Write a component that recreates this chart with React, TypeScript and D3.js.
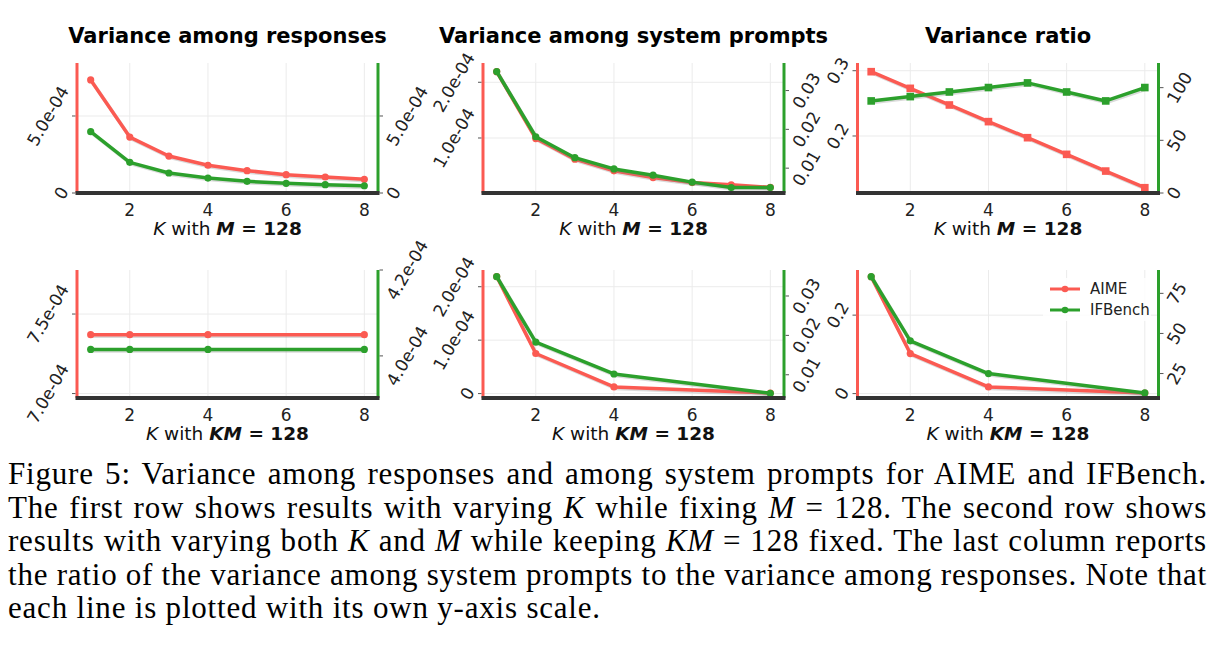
import React, { useEffect, useRef } from 'react';
import * as d3 from 'd3';

// K values on the x axis
const kFixedM = [1, 2, 3, 4, 5, 6, 7, 8];
const kFixedKM = [1, 2, 4, 8];

// Row 1: M = 128
const respAimeM = [7.34e-4, 3.63e-4, 2.40e-4, 1.80e-4, 1.45e-4, 1.19e-4, 1.04e-4, 0.89e-4];
const respIfbM = [3.98e-4, 1.99e-4, 1.30e-4, 0.97e-4, 0.76e-4, 0.63e-4, 0.54e-4, 0.47e-4];
const sysAimeM = [2.19e-4, 0.99e-4, 0.62e-4, 0.41e-4, 0.29e-4, 0.20e-4, 0.16e-4, 0.115e-4];
const sysIfbM = [0.0349, 0.0181, 0.0127, 0.0098, 0.0082, 0.0064, 0.0050, 0.0050];
const ratioAimeM = [0.2985, 0.273, 0.2475, 0.222, 0.1974, 0.1719, 0.1463, 0.1208];
const ratioIfbM = [87.4, 91.5, 95.9, 100.1, 104.5, 95.9, 87.4, 100.1];

// Row 2: KM = 128
const respAimeKM = [7.37e-4, 7.37e-4, 7.37e-4, 7.37e-4];
const respIfbKM = [4.015e-4, 4.015e-4, 4.015e-4, 4.015e-4];
const sysAimeKM = [2.19e-4, 0.75e-4, 0.125e-4, 0.01e-4];
const sysIfbKM = [0.0349, 0.0183, 0.0102, 0.0053];
const ratioAimeKM = [0.2978, 0.102, 0.017, 0.0015];
const ratioIfbKM = [85.4, 45.4, 25.0, 12.9];

const titles = ['Variance among responses', 'Variance among system prompts', 'Variance ratio'];
const seriesNames = ['AIME', 'IFBench'];

const captionLines = [
    [['Figure 5: Variance among responses and among system prompts for AIME and IFBench.', false]],
    [['The first row shows results with varying ', false], ['K', true], [' while fixing ', false], ['M', true], [' = 128. The second row shows', false]],
    [['results with varying both ', false], ['K', true], [' and ', false], ['M', true], [' while keeping ', false], ['KM', true], [' = 128 fixed. The last column reports', false]],
    [['the ratio of the variance among system prompts to the variance among responses. Note that', false]],
    [['each line is plotted with its own y-axis scale.', false]],
] as [string, boolean][][];

const RED = '#fb5a52';
const GREEN = '#2ca02c';

type Panel = {
    col: number;
    row: number;
    ks: number[];
    red: number[];
    green: number[];
    leftDomain: [number, number];
    rightDomain: [number, number];
    leftTicks: number[];
    rightTicks: number[];
    fmtL: (v: number) => string;
    fmtR: (v: number) => string;
    marker: 'circle' | 'square';
};

const sci = (v: number) => (v === 0 ? '0' : v.toExponential(1).replace(/e([+-])(\d)$/, 'e$10$2'));
const plain = (v: number) => (v === 0 ? '0' : String(v));

const panels: Panel[] = [
    { col: 0, row: 0, ks: kFixedM, red: respAimeM, green: respIfbM, leftDomain: [0, 8.44e-4], rightDomain: [0, 8.44e-4], leftTicks: [0, 5e-4], rightTicks: [0, 5e-4], fmtL: sci, fmtR: sci, marker: 'circle' },
    { col: 1, row: 0, ks: kFixedM, red: sysAimeM, green: sysIfbM, leftDomain: [0.0126e-4, 2.346e-4], rightDomain: [0.0036, 0.0371], leftTicks: [1e-4, 2e-4], rightTicks: [0.01, 0.02, 0.03], fmtL: sci, fmtR: plain, marker: 'circle' },
    { col: 2, row: 0, ks: kFixedM, red: ratioAimeM, green: ratioIfbM, leftDomain: [0.1127, 0.3118], rightDomain: [0, 123.4], leftTicks: [0.2, 0.3], rightTicks: [0, 50, 100], fmtL: plain, fmtR: plain, marker: 'square' },
    { col: 0, row: 1, ks: kFixedKM, red: respAimeKM, green: respIfbKM, leftDomain: [6.972e-4, 7.777e-4], rightDomain: [3.902e-4, 4.2e-4], leftTicks: [7.0e-4, 7.5e-4], rightTicks: [4.0e-4, 4.2e-4], fmtL: sci, fmtR: sci, marker: 'circle' },
    { col: 1, row: 1, ks: kFixedKM, red: sysAimeKM, green: sysIfbKM, leftDomain: [-0.0826e-4, 2.313e-4], rightDomain: [0.0041, 0.0366], leftTicks: [0, 1e-4, 2e-4], rightTicks: [0.01, 0.02, 0.03], fmtL: sci, fmtR: plain, marker: 'circle' },
    { col: 2, row: 1, ks: kFixedKM, red: ratioAimeKM, green: ratioIfbKM, leftDomain: [-0.0112, 0.315], rightDomain: [9.75, 89.56], leftTicks: [0, 0.2], rightTicks: [25, 50, 75], fmtL: plain, fmtR: plain, marker: 'circle' },
];

const colX = [77, 483, 857.5];
const plotW = 301;
const rowY = [[63, 193], [270, 398]];
const FONT = 'DejaVu Sans, sans-serif';

const App: React.FC = () => {
    const ref = useRef<SVGSVGElement>(null);

    useEffect(() => {
        if (!ref.current) return;
        const svg = d3.select(ref.current);
        svg.selectAll('*').remove();
        const theta = 60;
        const rad = (theta * Math.PI) / 180;

        panels.forEach((p) => {
            const x0 = colX[p.col];
            const x1 = x0 + plotW;
            const [y0, y1] = rowY[p.row];
            const g = svg.append('g');

            const x = d3.scaleLinear().domain([0.65, 8.35]).range([x0, x1]);
            const yL = d3.scaleLinear().domain(p.leftDomain).range([y1, y0]);
            const yR = d3.scaleLinear().domain(p.rightDomain).range([y1, y0]);

            // grid
            [2, 4, 6, 8].forEach((k) => {
                g.append('line').attr('x1', x(k)).attr('x2', x(k)).attr('y1', y0).attr('y2', y1)
                    .attr('stroke', '#ebebeb').attr('stroke-width', 1);
            });
            p.leftTicks.forEach((t) => {
                g.append('line').attr('x1', x0).attr('x2', x1).attr('y1', yL(t)).attr('y2', yL(t))
                    .attr('stroke', '#ebebeb').attr('stroke-width', 1);
            });

            // lines
            const drawSeries = (vals: number[], y: d3.ScaleLinear<number, number>, color: string) => {
                const pts = p.ks.map((k, i) => [x(k), y(vals[i])] as [number, number]);
                const line = d3.line();
                g.append('path').attr('d', line(pts)).attr('fill', 'none').attr('stroke', '#888')
                    .attr('stroke-opacity', 0.3).attr('stroke-width', 3.5).attr('stroke-linejoin', 'round')
                    .attr('transform', 'translate(1.2,1.5)');
                g.append('path').attr('d', line(pts)).attr('fill', 'none').attr('stroke', color)
                    .attr('stroke-width', 3.5).attr('stroke-linejoin', 'round');
                pts.forEach(([px, py]) => {
                    if (p.marker === 'circle') {
                        g.append('circle').attr('cx', px).attr('cy', py).attr('r', 3.6).attr('fill', color);
                    } else {
                        g.append('rect').attr('x', px - 3.8).attr('y', py - 3.8).attr('width', 7.6).attr('height', 7.6).attr('fill', color);
                    }
                });
            };
            drawSeries(p.red, yL, RED);
            drawSeries(p.green, yR, GREEN);

            // spines
            g.append('line').attr('x1', x0).attr('x2', x0).attr('y1', y0).attr('y2', y1).attr('stroke', RED).attr('stroke-width', 3);
            g.append('line').attr('x1', x1).attr('x2', x1).attr('y1', y0).attr('y2', y1).attr('stroke', GREEN).attr('stroke-width', 3);
            g.append('line').attr('x1', x0 - 1.5).attr('x2', x1 + 1.5).attr('y1', y1).attr('y2', y1).attr('stroke', '#333').attr('stroke-width', 4);

            // x tick labels
            [2, 4, 6, 8].forEach((k) => {
                g.append('text').attr('x', x(k)).attr('y', y1 + 23).attr('text-anchor', 'middle')
                    .attr('font-family', FONT).attr('font-size', 17).attr('fill', '#222').text(String(k));
            });

            // y ticks and rotated labels
            const yLabel = (y: number, side: 'left' | 'right', label: string) => {
                const tx = side === 'left' ? x0 - 1.5 : x1 + 1.5;
                const dir = side === 'left' ? -1 : 1;
                g.append('line').attr('x1', tx).attr('x2', tx + dir * 3.5).attr('y1', y).attr('y2', y)
                    .attr('stroke', '#555').attr('stroke-width', 1);
                const txt = g.append('text').attr('text-anchor', 'middle').attr('dominant-baseline', 'central')
                    .attr('font-family', FONT).attr('font-size', 17).attr('fill', '#222').text(label);
                const L = (txt.node() as SVGTextElement).getComputedTextLength();
                const w = L * Math.cos(rad) + 12.5 * Math.sin(rad);
                const cx = tx + dir * (6 + w / 2);
                txt.attr('transform', `translate(${cx},${y}) rotate(${-theta})`);
            };
            p.leftTicks.forEach((t) => yLabel(yL(t), 'left', p.fmtL(t)));
            p.rightTicks.forEach((t) => yLabel(yR(t), 'right', p.fmtR(t)));

            // x label
            const xl = g.append('text').attr('x', (x0 + x1) / 2).attr('y', y1 + 42).attr('text-anchor', 'middle')
                .attr('font-family', FONT).attr('font-size', 18.5).attr('fill', '#111');
            xl.append('tspan').attr('font-style', 'italic').text('K');
            xl.append('tspan').text(' with ');
            xl.append('tspan').attr('font-style', 'italic').attr('font-weight', 'bold').text(p.row === 0 ? 'M' : 'KM');
            xl.append('tspan').attr('font-weight', 'bold').text(' = 128');

            if (p.row === 0) {
                g.append('text').attr('x', (x0 + x1) / 2).attr('y', 43).attr('text-anchor', 'middle')
                    .attr('font-family', FONT).attr('font-size', 21).attr('font-weight', 'bold').attr('fill', '#000')
                    .text(titles[p.col]);
            }

            // legend in last panel
            if (p.col === 2 && p.row === 1) {
                g.append('rect').attr('x', 1043).attr('y', 278).attr('width', 108).attr('height', 43)
                    .attr('fill', '#fff').attr('fill-opacity', 0.85);
                [RED, GREEN].forEach((c, i) => {
                    const ly = 289 + i * 21;
                    g.append('line').attr('x1', 1050).attr('x2', 1080).attr('y1', ly).attr('y2', ly).attr('stroke', c).attr('stroke-width', 3);
                    g.append('circle').attr('cx', 1065).attr('cy', ly).attr('r', 3.3).attr('fill', c);
                    g.append('text').attr('x', 1090).attr('y', ly).attr('dominant-baseline', 'central')
                        .attr('font-family', FONT).attr('font-size', 15).attr('fill', '#222').text(seriesNames[i]);
                });
            }
        });

        // caption, justified by word spacing
        const capLeft = 8;
        const capRight = 1207;
        captionLines.forEach((segs, i) => {
            const t = svg.append('text').attr('x', capLeft).attr('y', 484 + i * 33.5)
                .attr('font-family', 'Liberation Serif, serif').attr('font-size', 31).attr('fill', '#000')
                .attr('letter-spacing', 0.8);
            segs.forEach(([s, it]) => {
                const ts = t.append('tspan').text(s);
                if (it) ts.attr('font-style', 'italic');
            });
            if (i < captionLines.length - 1) {
                const node = t.node() as SVGTextElement;
                const natural = node.getComputedTextLength();
                const spaces = segs.map((s) => s[0]).join('').split(' ').length - 1;
                const extra = (capRight - capLeft - natural) / spaces;
                t.attr('word-spacing', extra);
            }
        });
    }, []);

    return <svg ref={ref} width={1225} height={645} style={{ position: 'absolute', left: 0, top: 0, background: '#fff' }} />;
};

export default App;
